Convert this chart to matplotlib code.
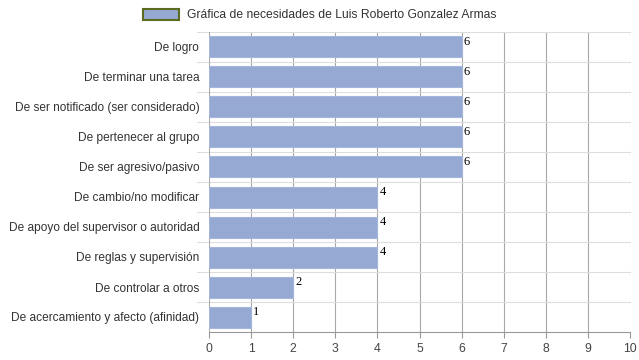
import matplotlib.pyplot as plt
from matplotlib.patches import Patch

# necesidades y puntajes (de arriba hacia abajo)
categorias = [
    "De logro",
    "De terminar una tarea",
    "De ser notificado (ser considerado)",
    "De pertenecer al grupo",
    "De ser agresivo/pasivo",
    "De cambio/no modificar",
    "De apoyo del supervisor o autoridad",
    "De reglas y supervisión",
    "De controlar a otros",
    "De acercamiento y afecto (afinidad)",
]
valores = [6, 6, 6, 6, 6, 4, 4, 4, 2, 1]
ticks_x = list(range(0, 11))
titulo = "Gráfica de necesidades de Luis Roberto Gonzalez Armas"

plt.rcParams["font.family"] = ["Liberation Sans", "DejaVu Sans"]

fig = plt.figure(figsize=(6.39, 3.6), dpi=100)
ax = fig.add_axes([209 / 639, 28 / 360, 421 / 639, 300 / 360])

n = len(categorias)
pos = list(range(n))
ax.barh(pos, valores, height=0.7, color="#95a9d3", edgecolor="#a4b6dc",
        linewidth=0.8, zorder=3)

for p, v in zip(pos, valores):
    ax.text(v + 0.05, p - 0.37, str(v), ha="left", va="top",
            fontsize=9, family="Liberation Serif", color="black", zorder=4)

ax.set_xlim(0, 10)
ax.set_ylim(n - 0.5, -0.5)
ax.set_xticks(ticks_x)
ax.set_xticklabels([str(t) for t in ticks_x], fontsize=8.8, color="#444444")
ax.set_yticks(pos)
ax.set_yticklabels(categorias, fontsize=8.6, color="#333333")

# lineas de la grilla
for t in ticks_x[1:]:
    ax.axvline(t, color="#a8a8a8" if t < 10 else "#d0d0d0", linewidth=0.8, zorder=1)
for k in range(n):
    ax.axhline(k - 0.5, color="#dddddd", linewidth=0.8, zorder=1, xmin=-0.028,
               clip_on=False)

for lado in ["top", "right", "left"]:
    ax.spines[lado].set_visible(False)
ax.spines["bottom"].set_color("#999999")
ax.axvline(0, color="#aaaaaa", linewidth=0.8, zorder=2)
ax.tick_params(axis="y", length=0, pad=7)
ax.tick_params(axis="x", length=4, color="#999999", pad=4)

leyenda = [Patch(facecolor="#95a9d3", edgecolor="#5b6b1f", linewidth=1.5, label=titulo)]
fig.legend(handles=leyenda, loc="center", bbox_to_anchor=(0.5, 1 - 15 / 360),
           frameon=False, fontsize=8.7, handlelength=3.0, handleheight=1.0,
           handletextpad=0.6, labelcolor="#333333")

fig.savefig("out.png", dpi=100)
